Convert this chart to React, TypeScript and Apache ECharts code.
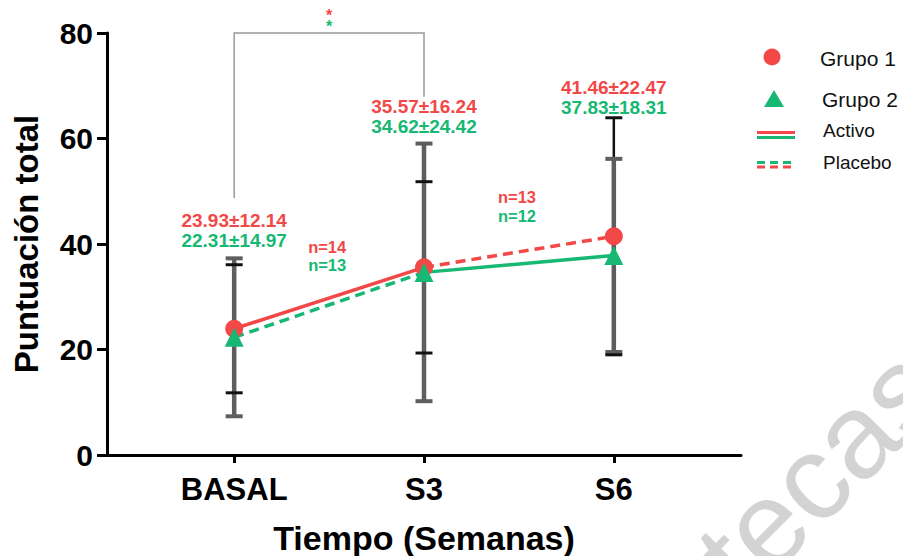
import React, { useEffect, useRef } from "react";
import * as echarts from "echarts";

const categories = ["BASAL", "S3", "S6"];
const yTicks = [0, 20, 40, 60, 80];
const grupo1Mean = [23.93, 35.57, 41.46];
const grupo1Sd = [12.14, 16.24, 22.47];
const grupo2Mean = [22.31, 34.62, 37.83];
const grupo2Sd = [14.97, 24.42, 18.31];
const grupo1N = ["n=14", "n=13"];
const grupo2N = ["n=13", "n=12"];
const legendItems = ["Grupo 1", "Grupo 2", "Activo", "Placebo"];

const RED = "#F24848";
const GREEN = "#17B873";
const FONT = 'Arial, "Liberation Sans", Helvetica, sans-serif';

const fmt = (m: number, s: number) => `${m.toFixed(2)}±${s.toFixed(2)}`;

export default function App() {
  const ref = useRef<HTMLDivElement>(null);
  useEffect(() => {
    document.body.style.margin = "0";
    const chart = echarts.init(ref.current!, null, { renderer: "svg" });
    const xs = categories.map((_, i) => i);

    // annotation layout: [x, y, redText, greenText, fontSize, lineHeight]
    const annots: any[] = [];
    const meanLabelY = [42.5, 64.2, 67.8];
    xs.forEach((i) => {
      annots.push([i, meanLabelY[i], fmt(grupo1Mean[i], grupo1Sd[i]), fmt(grupo2Mean[i], grupo2Sd[i]), 19, 20]);
    });
    const nLabelY = [37.7, 47.1];
    [0, 1].forEach((k) => {
      annots.push([k + 0.49, nLabelY[k], grupo1N[k], grupo2N[k], 16.5, 18.5]);
    });
    annots.push([0.5, 82.2, "*", "*", 16, 11]);

    const seg = (arr: number[], a: number, b: number) => [
      [a, arr[a]],
      [b, arr[b]],
    ];

    const option: any = {
      animation: false,
      grid: { left: 107, right: 162, top: 33, bottom: 101, outerBoundsMode: "none", containLabel: false },
      xAxis: {
        type: "value",
        min: -0.67,
        max: 2.67,
        splitLine: { show: false },
        axisLine: { onZero: false, lineStyle: { color: "#000", width: 3 } },
        axisTick: { show: true, length: 8, lineStyle: { width: 3, color: "#000" }, customValues: xs },
        axisLabel: {
          customValues: xs,
          formatter: (v: number) => categories[Math.round(v)] ?? "",
          color: "#000",
          fontFamily: FONT,
          fontWeight: "bold",
          fontSize: 31,
          margin: 19,
        },
        name: "Tiempo (Semanas)",
        nameLocation: "middle",
        nameGap: 66,
        nameTextStyle: { color: "#000", fontFamily: FONT, fontWeight: "bold", fontSize: 34 },
      },
      yAxis: {
        type: "value",
        min: 0,
        max: 80,
        interval: 20,
        splitLine: { show: false },
        axisLine: { show: true, onZero: false, lineStyle: { color: "#000", width: 3 } },
        axisTick: { show: true, length: 10, lineStyle: { width: 3, color: "#000" } },
        axisLabel: {
          color: "#000",
          fontFamily: FONT,
          fontWeight: "bold",
          fontSize: 30,
          margin: 14,
          formatter: (v: number) => (yTicks.includes(v) ? String(v) : ""),
        },
        name: "Puntuación total",
        nameLocation: "middle",
        nameGap: 64,
        nameTextStyle: { color: "#000", fontFamily: FONT, fontWeight: "bold", fontSize: 33 },
      },
      series: [
        {
          type: "custom",
          silent: true,
          clip: false,
          z: 1,
          data: xs.map((i) => [
            i,
            grupo1Mean[i] - grupo1Sd[i],
            grupo1Mean[i] + grupo1Sd[i],
            grupo2Mean[i] - grupo2Sd[i],
            grupo2Mean[i] + grupo2Sd[i],
          ]),
          encode: { x: 0, y: [1, 2, 3, 4] },
          renderItem: (_p: any, api: any) => {
            const x = api.value(0);
            const r1 = api.coord([x, api.value(1)]);
            const r2 = api.coord([x, api.value(2)]);
            const g1 = api.coord([x, api.value(3)]);
            const g2 = api.coord([x, api.value(4)]);
            const hw = 8.5;
            const cap = (p: number[], color: string, w: number) => ({
              type: "line",
              shape: { x1: p[0] - hw, y1: p[1], x2: p[0] + hw, y2: p[1] },
              style: { stroke: color, lineWidth: w },
            });
            return {
              type: "group",
              children: [
                { type: "line", shape: { x1: r1[0], y1: r1[1], x2: r2[0], y2: r2[1] }, style: { stroke: "#111", lineWidth: 2.5 } },
                { type: "line", shape: { x1: g1[0], y1: g1[1], x2: g2[0], y2: g2[1] }, style: { stroke: "#5e5e5e", lineWidth: 4.5 } },
                cap(g1, "#5e5e5e", 4),
                cap(g2, "#5e5e5e", 4),
                cap(r1, "#111", 3),
                cap(r2, "#111", 3),
              ],
            };
          },
        },
        {
          type: "line",
          z: 2,
          data: seg(grupo2Mean, 0, 1),
          symbol: "none",
          lineStyle: { color: GREEN, width: 3.5, type: [10, 6] },
        },
        {
          type: "line",
          z: 2,
          data: seg(grupo1Mean, 0, 1),
          symbol: "none",
          lineStyle: { color: RED, width: 3.5, type: "solid" },
        },
        {
          type: "line",
          z: 2,
          data: seg(grupo2Mean, 1, 2),
          symbol: "none",
          lineStyle: { color: GREEN, width: 3.5, type: "solid" },
        },
        {
          type: "line",
          z: 2,
          data: seg(grupo1Mean, 1, 2),
          symbol: "none",
          lineStyle: { color: RED, width: 3.5, type: [10, 6] },
        },
        {
          type: "scatter",
          z: 3,
          data: xs.map((i) => [i, grupo1Mean[i]]),
          symbol: "circle",
          symbolSize: 18,
          itemStyle: { color: RED, opacity: 1 },
        },
        {
          type: "scatter",
          z: 4,
          data: xs.map((i) => [i, grupo2Mean[i]]),
          symbol: "triangle",
          symbolSize: 19,
          itemStyle: { color: GREEN, opacity: 1 },
        },
        {
          // significance bracket
          type: "custom",
          silent: true,
          clip: false,
          z: 1,
          data: [[0, 48.7, 80, 1, 67.9]],
          encode: { x: [0, 3], y: [1, 2, 4] },
          renderItem: (_p: any, api: any) => {
            const a = api.coord([api.value(0), api.value(1)]);
            const b = api.coord([api.value(0), api.value(2)]);
            const c = api.coord([api.value(3), api.value(2)]);
            const d = api.coord([api.value(3), api.value(4)]);
            return {
              type: "polyline",
              shape: { points: [a, b, c, d] },
              style: { stroke: "#999", lineWidth: 1.5, fill: "none" },
            };
          },
        },
        {
          type: "custom",
          silent: true,
          clip: false,
          z: 5,
          data: annots.map((a) => [a[0], a[1]]),
          encode: { x: 0, y: 1 },
          renderItem: (p: any, api: any) => {
            const item = annots[p.dataIndex];
            const pt = api.coord([item[0], item[1]]);
            const base = { fontSize: item[4], fontWeight: "bold", fontFamily: FONT, lineHeight: item[5] };
            return {
              type: "text",
              x: pt[0],
              y: pt[1],
              style: {
                text: `{r|${item[2]}}\n{g|${item[3]}}`,
                textAlign: "center",
                textVerticalAlign: "middle",
                rich: {
                  r: { ...base, fill: RED },
                  g: { ...base, fill: GREEN },
                },
              },
            };
          },
        },
      ],
      graphic: [
        { type: "circle", shape: { cx: 772, cy: 57, r: 8.5 }, style: { fill: RED } },
        { type: "polygon", shape: { points: [[774, 90], [764, 107], [784, 107]] }, style: { fill: GREEN } },
        { type: "line", shape: { x1: 757, y1: 132.5, x2: 795, y2: 132.5 }, style: { stroke: RED, lineWidth: 3 } },
        { type: "line", shape: { x1: 757, y1: 137.5, x2: 795, y2: 137.5 }, style: { stroke: GREEN, lineWidth: 3 } },
        { type: "line", shape: { x1: 757, y1: 162.5, x2: 795, y2: 162.5 }, style: { stroke: GREEN, lineWidth: 3, lineDash: [8, 5] } },
        { type: "line", shape: { x1: 757, y1: 167, x2: 795, y2: 167 }, style: { stroke: RED, lineWidth: 3, lineDash: [8, 5] } },
        { type: "text", x: 820, y: 58, style: { text: legendItems[0], fill: "#111", font: `21px ${FONT}`, textVerticalAlign: "middle" } },
        { type: "text", x: 822, y: 99, style: { text: legendItems[1], fill: "#111", font: `21px ${FONT}`, textVerticalAlign: "middle" } },
        { type: "text", x: 823, y: 130, style: { text: legendItems[2], fill: "#111", font: `19px ${FONT}`, textVerticalAlign: "middle" } },
        { type: "text", x: 823, y: 162, style: { text: legendItems[3], fill: "#111", font: `19px ${FONT}`, textVerticalAlign: "middle" } },
        {
          type: "text",
          x: 717,
          y: 572,
          rotation: Math.PI / 4,
          silent: true,
          z: -1,
          style: { text: "tecas", fill: "#d3d3d3", font: `120px ${FONT}`, textAlign: "left", textVerticalAlign: "middle" },
        },
      ],
    };
    chart.setOption(option);
    return () => chart.dispose();
  }, []);
  return <div ref={ref} style={{ width: 903, height: 556 }} />;
}
